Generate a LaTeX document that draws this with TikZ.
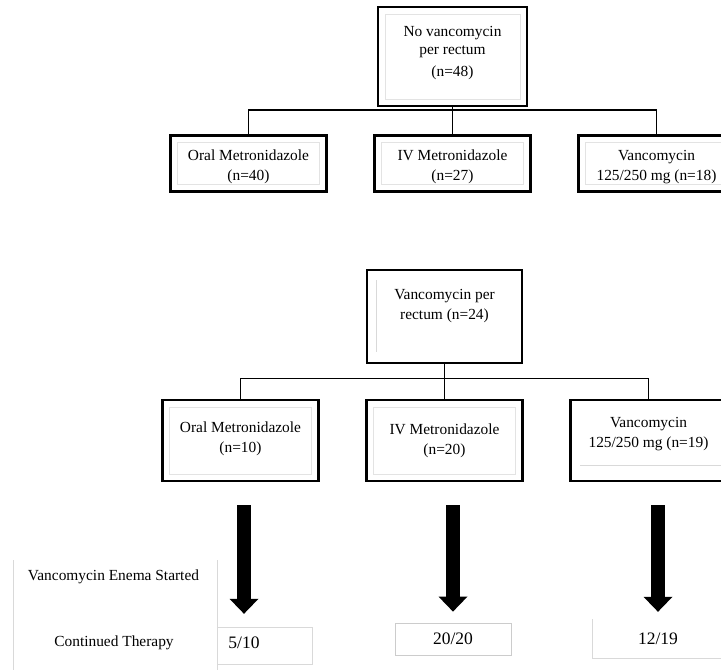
\documentclass[tikz,border=0pt]{standalone}
\usepackage{fontspec}
\setmainfont{Liberation Serif}
\usetikzlibrary{positioning,arrows.meta,calc,trees}

\begin{document}
\begin{tikzpicture}[
  x=1pt, y=-1pt,
  sibling distance=204pt,
  edge from parent fork down,
  edge from parent/.style={draw, line width=1.3pt},
  every node/.style={font=\fontsize{15.4}{20}\selectfont},
  box/.style   ={draw, line width=2.6pt, align=center, inner sep=2pt},
  inframe/.style={path picture={\draw[gray!22, line width=0.8pt]
      ([shift={(7pt,-7pt)}]path picture bounding box.north west) rectangle
      ([shift={(-7pt,7pt)}]path picture bounding box.south east);}},
  grpbox/.style={box, minimum width=152pt, minimum height=96pt},
  armbox/.style={box, minimum width=156pt, minimum height=56pt, inframe, text height=38pt},
  armboxb/.style={box, minimum width=156pt, minimum height=81pt},
  res/.style   ={font=\fontsize{17.5}{20}\selectfont, minimum height=32pt, inner sep=0pt},
  faint/.style ={draw=gray!30, line width=0.8pt},
  bigarrow/.style={line width=14pt, -{Triangle[width=29pt,length=15pt,line width=0pt]}},
]
\useasboundingbox (0,0) rectangle (721,670);
\clip (0,0) rectangle (721,670);

\node[grpbox, inframe, minimum width=149pt, minimum height=99pt, text depth=11pt,
      font=\fontsize{15.4}{18}\selectfont] (norect) at (452.5,56.5)
  {No vancomycin\\per rectum\\[4pt](n=48)} [level distance=107pt]
  child {node[armbox] (oralA) {Oral Metronidazole\\(n=40)}}
  child {node[armbox] (ivA) {IV Metronidazole\\(n=27)}}
  child {node[armbox] (vancA) {Vancomycin\\125/250 mg (n=18)}};

\node[grpbox, minimum width=155pt, minimum height=93pt, text depth=25pt] (rect) at (444.5,316.5)
  {Vancomycin per\\rectum (n=24)} [level distance=124pt]
  child {node[armboxb, inframe, text depth=7pt] (oralB) {Oral Metronidazole\\(n=10)}}
  child {node[armboxb, inframe] (ivB) {IV Metronidazole\\(n=20)}}
  child {node[armboxb, text depth=17pt] (vancB) {Vancomycin\\125/250 mg (n=19)}};

\node (started) at (113.5,577) {Vancomycin Enema Started};
\node (continued) at (114,643) {Continued Therapy};
\node[res] (oralres) at (244,643) {5/10};
\node[res, draw=gray!40, line width=0.8pt, minimum width=116pt] (ivres) at (453,639) {20/20};
\node[res] (vancres) at (658,639) {12/19};

\draw[bigarrow] ([yshift=-23pt]oralB.south -| oralres) -- ([yshift=13pt]oralres.north);
\draw[bigarrow] ([yshift=-23pt]ivB.south -| ivres) -- ([yshift=11pt]ivres.north);
\draw[bigarrow] ([yshift=-23pt]vancB.south -| vancres) -- ([yshift=11pt]vancres.north);

\draw[faint] (13,560) -- (13,670);
\draw[faint] (217,560) -- (217,670) (217,627) -- (312,627) -- (312,664) -- (217,664);
\draw[faint] (592,619) -- (592,658) -- (721,658);
\draw[faint] (376,280) -- (376,352);
\draw[faint] (580,465) -- (721,465);
\end{tikzpicture}
\end{document}
